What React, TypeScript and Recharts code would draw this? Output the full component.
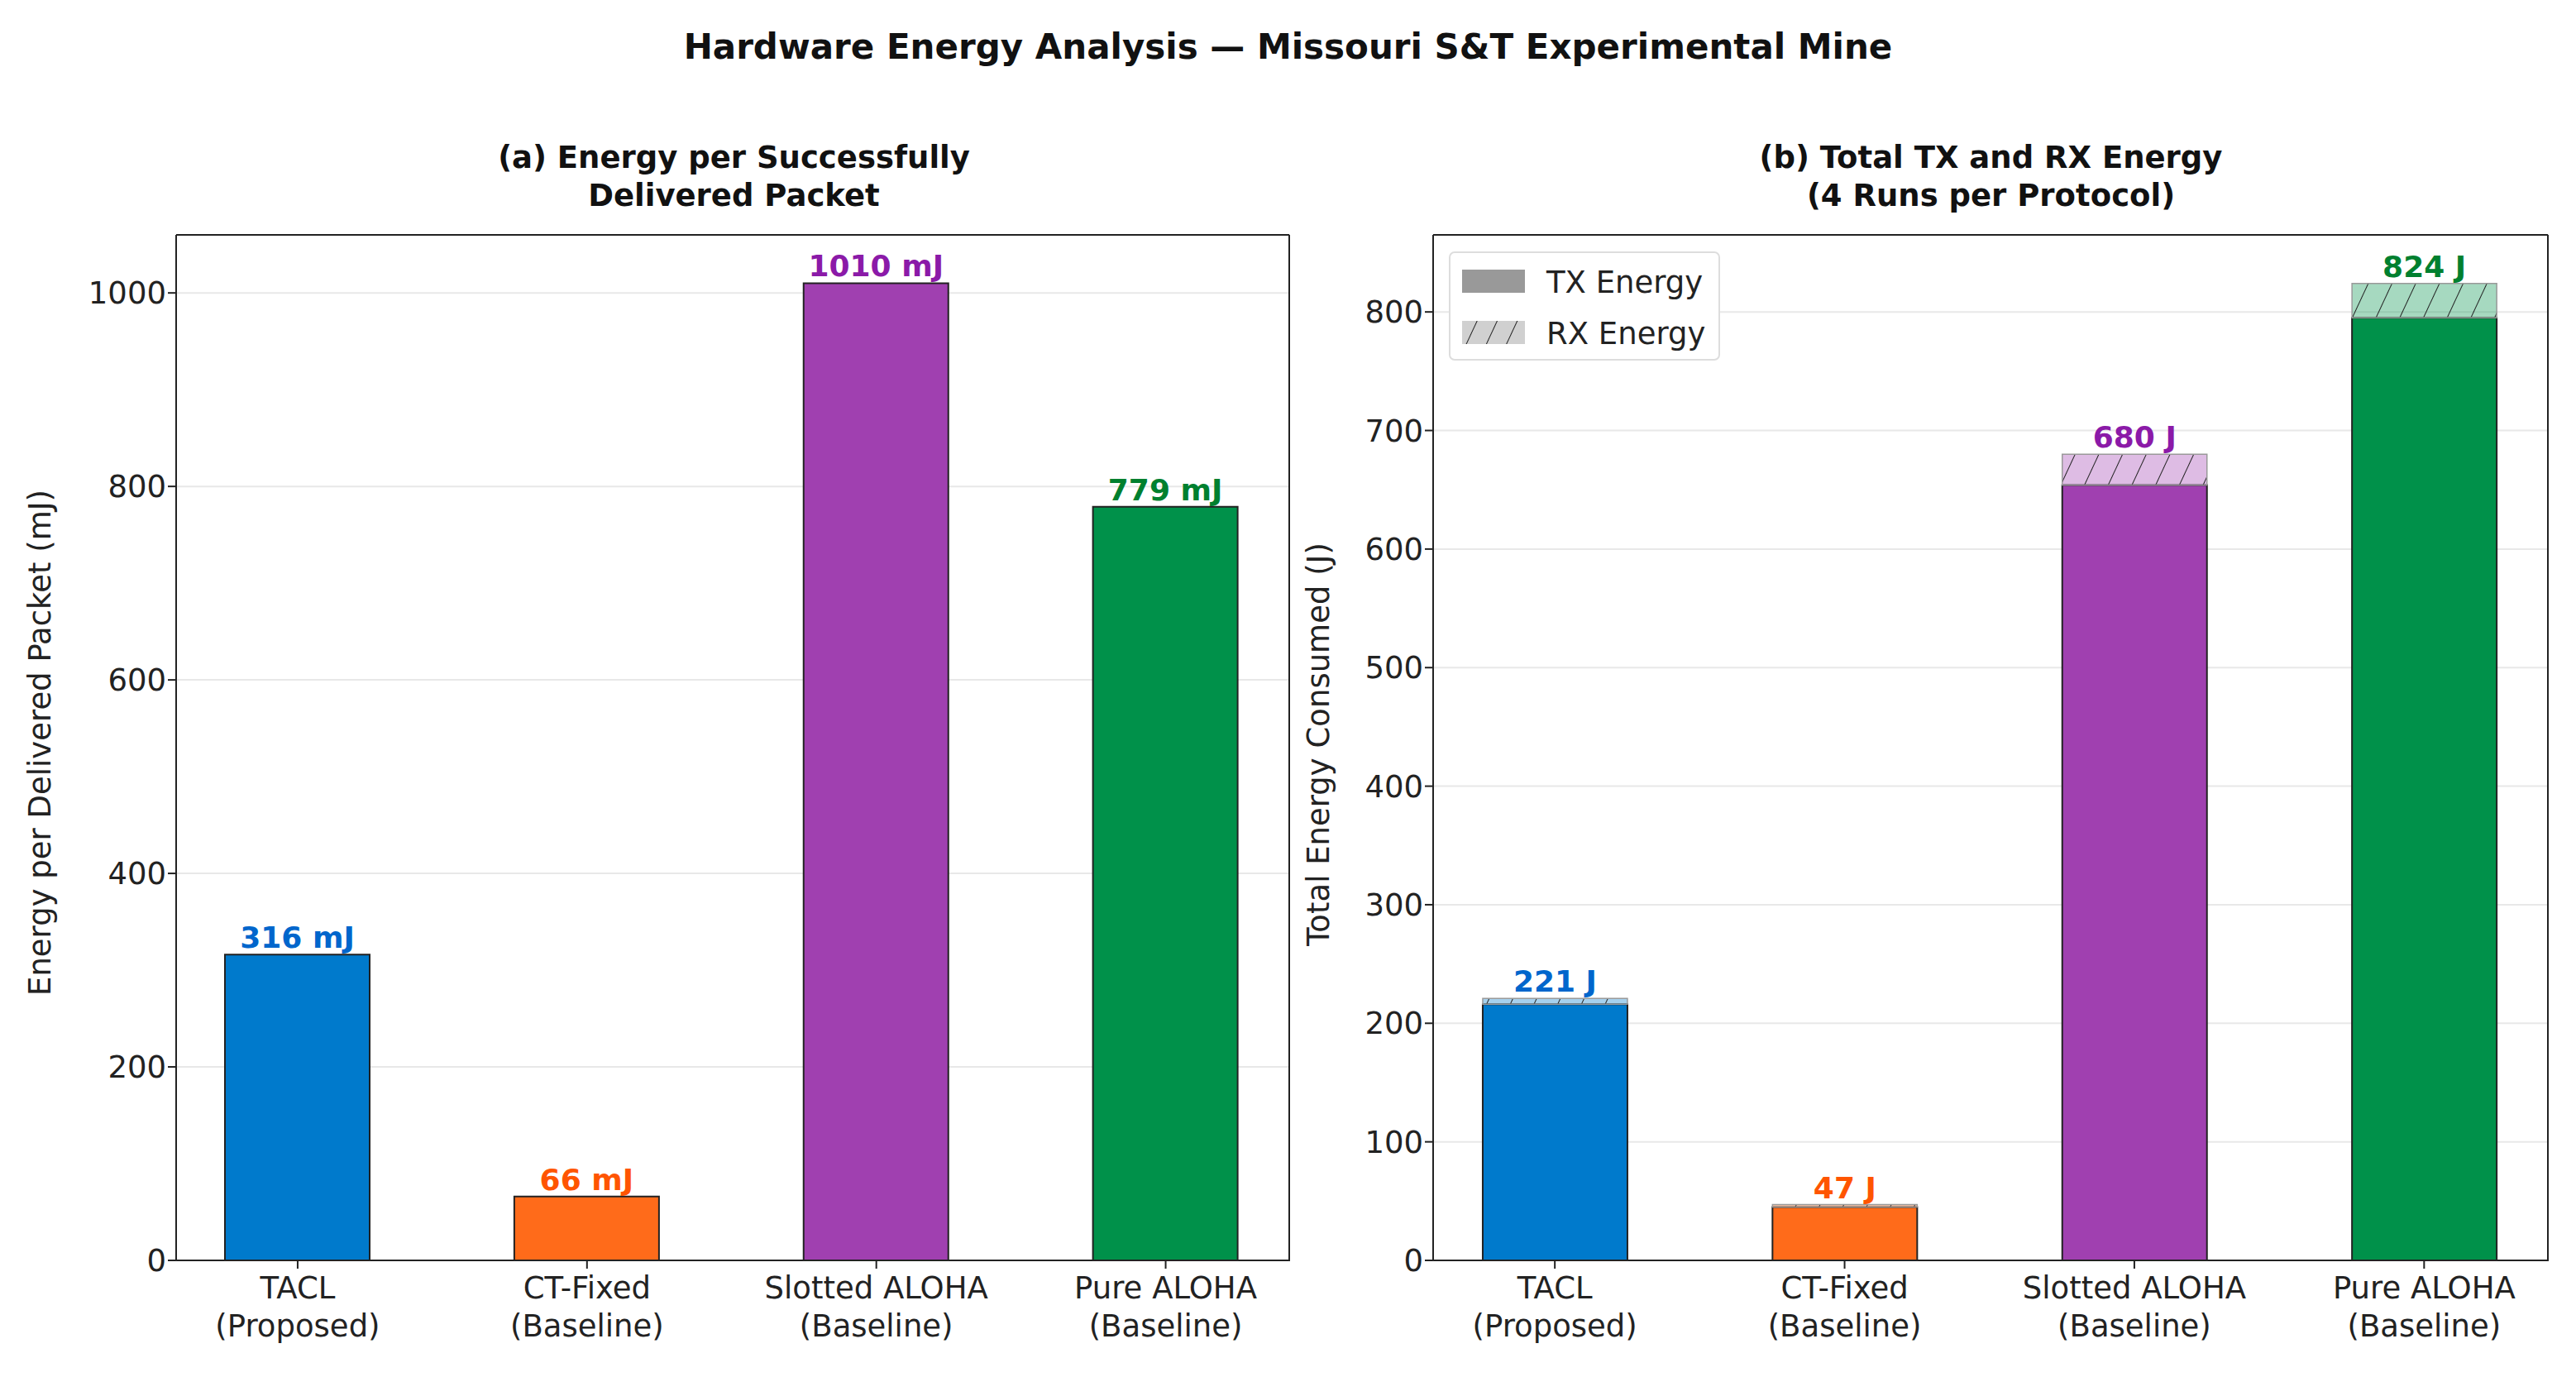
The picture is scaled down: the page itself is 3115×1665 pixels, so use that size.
import { BarChart, Bar, XAxis, YAxis, CartesianGrid, Cell, LabelList } from 'recharts';

const categories = ['TACL\n(Proposed)', 'CT-Fixed\n(Baseline)', 'Slotted ALOHA\n(Baseline)', 'Pure ALOHA\n(Baseline)'];
const perPacket = [316, 66, 1010, 779];
const txEnergy = [216, 45, 654, 795];
const rxEnergy = [5, 2, 26, 29];
const totalEnergy = [221, 47, 680, 824];
const leftTicks = [0, 200, 400, 600, 800, 1000];
const rightTicks = [0, 100, 200, 300, 400, 500, 600, 700, 800];

const barColors = ['#007acc', '#ff6b1a', '#a040b0', '#00914a'];
const labelColors = ['#0066cc', '#ff5500', '#8b1aa8', '#00802f'];
const FONT = '"DejaVu Sans", sans-serif';

const leftData = categories.map((c, i) => ({ x: i, name: c, value: perPacket[i] }));
const rightData = categories.map((c, i) => ({ x: i, name: c, tx: txEnergy[i], rx: rxEnergy[i] }));

const CatTick = ({ x, y, payload }: any) => {
    const lines = categories[payload.value].split('\n');
    return (
        <g transform={`translate(${x},${y})`}>
            {lines.map((l, k) => (
                <text key={k} x={0} y={34 + k * 46} textAnchor="middle" fontSize={37} fill="#222" fontFamily={FONT}>
                    {l}
                </text>
            ))}
        </g>
    );
};

const makeLabel = (texts: string[]) => (props: any) => {
    const { x, y, width, index } = props;
    return (
        <text x={x + width / 2} y={y - 8} textAnchor="middle" fontSize={36} fontWeight="bold"
            fill={labelColors[index]} fontFamily={FONT}>
            {texts[index]}
        </text>
    );
};

const axisCommon = {
    stroke: '#222',
    strokeWidth: 2,
    tickSize: 10,
    tick: { fontSize: 37, fill: '#222', fontFamily: FONT },
};

export default function App() {
    return (
        <div style={{ position: 'absolute', left: 0, top: 0, width: 3115, height: 1665, background: '#fff', fontFamily: FONT }}>
            <div style={{ position: 'absolute', top: 32, width: 3115, textAlign: 'center', fontSize: 42, fontWeight: 'bold', color: '#111' }}>
                Hardware Energy Analysis — Missouri S&amp;T Experimental Mine
            </div>
            <div style={{ position: 'absolute', top: 168, left: 213, width: 1349, textAlign: 'center', fontSize: 37, fontWeight: 'bold', lineHeight: '46px', color: '#111' }}>
                (a) Energy per Successfully<br />Delivered Packet
            </div>
            <div style={{ position: 'absolute', top: 168, left: 1733, width: 1349, textAlign: 'center', fontSize: 37, fontWeight: 'bold', lineHeight: '46px', color: '#111' }}>
                (b) Total TX and RX Energy<br />(4 Runs per Protocol)
            </div>

            <div style={{ position: 'absolute', left: 0, top: 0 }}>
                <BarChart width={1560} height={1665} data={leftData} margin={{ top: 284, right: 0, bottom: 0, left: 93 }}>
                    <CartesianGrid vertical={false} stroke="#e8e8e8" strokeWidth={2} />
                    <XAxis dataKey="x" type="number" domain={[-0.42, 3.43]} ticks={[0, 1, 2, 3]} height={141}
                        tick={<CatTick />} stroke="#222" strokeWidth={2} tickSize={10} />
                    <YAxis type="number" domain={[0, 1060]} ticks={leftTicks} width={120} {...axisCommon}
                        label={{ value: 'Energy per Delivered Packet (mJ)', angle: -90, position: 'insideLeft', dx: -50, dy: 300,
                            style: { fontSize: 37, fill: '#222', fontFamily: FONT } }} />
                    <Bar dataKey="value" barSize={175} stroke="#222" strokeWidth={2} isAnimationActive={false}>
                        {leftData.map((d, i) => <Cell key={i} fill={barColors[i]} />)}
                        <LabelList dataKey="value" content={makeLabel(perPacket.map((v) => `${v} mJ`))} />
                    </Bar>
                    <line x1={1559} y1={284} x2={1559} y2={1524} stroke="#222" strokeWidth={2} />
                    <line x1={213} y1={284} x2={1559} y2={284} stroke="#222" strokeWidth={2} />
                </BarChart>
            </div>

            <div style={{ position: 'absolute', left: 1560, top: 0 }}>
                <BarChart width={1555} height={1665} data={rightData} margin={{ top: 284, right: 33, bottom: 0, left: 53 }}>
                    <defs>
                        {barColors.map((c, i) => (
                            <pattern key={i} id={`hatch${i}`} width={26} height={26} patternUnits="userSpaceOnUse" patternTransform="rotate(25)">
                                <rect width={26} height={26} fill={c} fillOpacity={0.35} />
                                <line x1={0} y1={0} x2={0} y2={26} stroke="#222" strokeWidth={2} />
                            </pattern>
                        ))}
                    </defs>
                    <CartesianGrid vertical={false} stroke="#e8e8e8" strokeWidth={2} />
                    <XAxis dataKey="x" type="number" domain={[-0.42, 3.43]} ticks={[0, 1, 2, 3]} height={141}
                        tick={<CatTick />} stroke="#222" strokeWidth={2} tickSize={10} />
                    <YAxis type="number" domain={[0, 865]} ticks={rightTicks} width={120} {...axisCommon}
                        label={{ value: 'Total Energy Consumed (J)', angle: -90, position: 'insideLeft', dx: -24, dy: 240,
                            style: { fontSize: 37, fill: '#222', fontFamily: FONT } }} />
                    <Bar dataKey="tx" stackId="a" barSize={175} stroke="#222" strokeWidth={2} isAnimationActive={false}>
                        {rightData.map((d, i) => <Cell key={i} fill={barColors[i]} />)}
                    </Bar>
                    <Bar dataKey="rx" stackId="a" barSize={175} stroke="#999" strokeWidth={1.5} isAnimationActive={false}>
                        {rightData.map((d, i) => <Cell key={i} fill={`url(#hatch${i})`} />)}
                        <LabelList dataKey="rx" content={makeLabel(totalEnergy.map((v) => `${v} J`))} />
                    </Bar>
                    <line x1={1521} y1={284} x2={1521} y2={1524} stroke="#222" strokeWidth={2} />
                    <line x1={173} y1={284} x2={1521} y2={284} stroke="#222" strokeWidth={2} />
                </BarChart>
            </div>

            <svg style={{ position: 'absolute', left: 1752, top: 304 }} width={330} height={134}>
                <defs>
                    <pattern id="legHatch" width={22} height={22} patternUnits="userSpaceOnUse" patternTransform="rotate(25)">
                        <rect width={22} height={22} fill="#d0d0d0" />
                        <line x1={0} y1={0} x2={0} y2={22} stroke="#222" strokeWidth={2} />
                    </pattern>
                </defs>
                <rect x={1} y={1} width={326} height={130} rx={6} fill="#fff" stroke="#ddd" strokeWidth={2} />
                <rect x={16} y={22} width={76} height={28} fill="#999" />
                <text x={118} y={50} fontSize={37} fill="#222" fontFamily={FONT}>TX Energy</text>
                <rect x={16} y={84} width={76} height={28} fill="url(#legHatch)" />
                <text x={118} y={112} fontSize={37} fill="#222" fontFamily={FONT}>RX Energy</text>
            </svg>
        </div>
    );
}
